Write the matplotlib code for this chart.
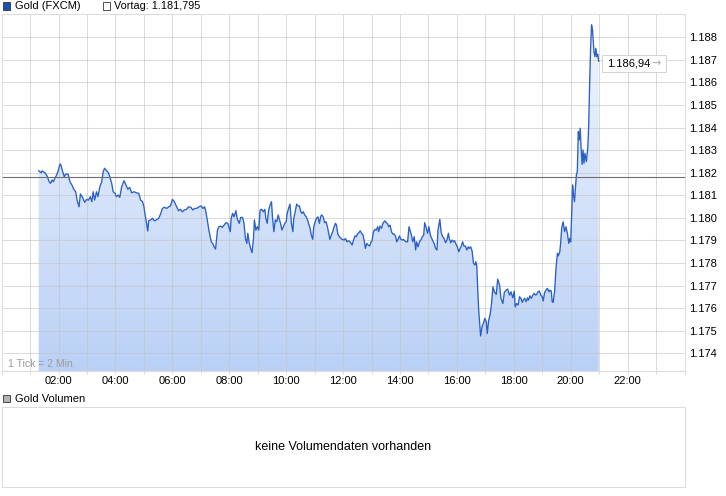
import numpy as np
import matplotlib
matplotlib.use("Agg")
import matplotlib.pyplot as plt
from matplotlib.colors import LinearSegmentedColormap
from matplotlib.patches import Rectangle, PathPatch
from matplotlib.path import Path
from matplotlib.transforms import IdentityTransform

plt.rcParams['font.family'] = ['Liberation Sans', 'DejaVu Sans']

# Gold (FXCM) intraday, 1 tick = 2 min; time as minutes after midnight
minutes = [
    78, 83, 85, 91, 96, 100, 103, 106, 109, 112, 116, 119, 123, 125, 128, 132, 135, 140, 144, 148,
    152, 156, 159, 163, 166, 171, 175, 179, 183, 187, 190, 193, 196, 200, 203, 207, 211, 214, 217, 221,
    225, 228, 232, 235, 239, 242, 246, 249, 253, 258, 262, 266, 270, 274, 279, 284, 289, 293, 297, 300,
    302, 305, 308, 310, 314, 318, 322, 326, 331, 335, 339, 343, 348, 352, 356, 360, 364, 369, 373, 377,
    381, 385, 390, 394, 399, 403, 407, 411, 416, 420, 422, 424, 428, 431, 434, 437, 439, 442, 445, 448,
    451, 455, 458, 462, 465, 469, 473, 477, 482, 484, 487, 490, 494, 497, 501, 504, 508, 511, 514, 517,
    519, 522, 525, 528, 531, 533, 536, 539, 542, 545, 548, 552, 555, 557, 560, 563, 566, 569, 571, 574,
    577, 580, 583, 586, 588, 591, 594, 597, 600, 602, 605, 608, 611, 614, 616, 619, 622, 625, 628, 630,
    633, 636, 639, 642, 645, 647, 650, 653, 656, 658, 661, 664, 667, 670, 673, 675, 678, 681, 684, 687,
    689, 692, 695, 698, 701, 704, 706, 709, 713, 718, 722, 725, 728, 732, 736, 739, 742, 745, 748, 750,
    753, 756, 759, 762, 765, 767, 770, 773, 776, 779, 781, 784, 787, 790, 793, 795, 798, 801, 804, 808,
    811, 814, 816, 819, 822, 825, 828, 831, 833, 836, 839, 842, 845, 847, 850, 853, 856, 859, 862, 864,
    867, 870, 873, 875, 878, 881, 884, 887, 890, 892, 895, 898, 901, 904, 906, 909, 912, 915, 918, 920,
    922, 924, 927, 930, 933, 936, 939, 942, 944, 947, 950, 953, 955, 958, 961, 964, 967, 970, 972, 975,
    978, 981, 984, 986, 989, 992, 995, 998, 1000, 1002, 1004, 1006, 1008, 1010, 1013, 1016, 1019, 1022, 1024, 1027,
    1030, 1033, 1036, 1039, 1043, 1046, 1050, 1053, 1057, 1060, 1064, 1067, 1071, 1074, 1078, 1081, 1083, 1086, 1089, 1092,
    1095, 1098, 1100, 1103, 1106, 1109, 1111, 1114, 1117, 1120, 1123, 1126, 1128, 1131, 1134, 1137, 1140, 1142, 1145, 1148,
    1151, 1154, 1156, 1159, 1161, 1163, 1166, 1169, 1172, 1174, 1177, 1179, 1181, 1184, 1187, 1190, 1193, 1196, 1198, 1200,
    1202, 1204, 1206, 1208, 1210, 1212, 1214, 1216, 1218, 1220, 1222, 1224, 1226, 1228, 1230, 1233, 1236, 1238, 1240, 1242,
    1244, 1246, 1249, 1251, 1253, 1255, 1257, 1259,
]
prices = [
    1182.09, 1182.00, 1182.08, 1182.00, 1181.85, 1181.60, 1181.53, 1181.68, 1181.60, 1181.75,
    1181.90, 1182.09, 1182.39, 1182.34, 1182.09, 1181.82, 1181.94, 1181.94, 1181.60, 1181.46,
    1181.27, 1181.16, 1180.79, 1180.49, 1181.06, 1180.89, 1180.69, 1180.82, 1180.79, 1180.94,
    1180.72, 1181.16, 1180.79, 1181.16, 1180.94, 1181.38, 1181.60, 1182.05, 1182.20, 1182.09,
    1182.00, 1181.82, 1181.53, 1181.16, 1181.09, 1180.94, 1181.01, 1180.91, 1181.38, 1181.65,
    1181.46, 1181.27, 1181.35, 1181.11, 1181.16, 1181.11, 1181.09, 1180.79, 1180.72, 1180.49,
    1180.20, 1179.83, 1179.42, 1179.87, 1179.91, 1179.98, 1179.87, 1179.91, 1179.98, 1180.17,
    1180.42, 1180.47, 1180.42, 1180.49, 1180.53, 1180.82, 1180.72, 1180.49, 1180.32, 1180.38,
    1180.27, 1180.35, 1180.38, 1180.49, 1180.47, 1180.35, 1180.42, 1180.42, 1180.49, 1180.53,
    1180.49, 1180.42, 1180.49, 1180.23, 1179.83, 1179.46, 1179.24, 1178.94, 1178.87, 1178.72,
    1178.62, 1179.46, 1179.61, 1179.64, 1179.58, 1179.68, 1179.79, 1179.76, 1179.39, 1179.98,
    1180.20, 1180.05, 1180.32, 1179.94, 1179.76, 1180.02, 1180.02, 1179.76, 1179.09, 1178.87,
    1179.32, 1178.90, 1178.65, 1178.46, 1179.09, 1179.91, 1179.46, 1179.61, 1179.46, 1180.35,
    1180.38, 1180.27, 1180.38, 1179.98, 1179.76, 1180.35, 1180.57, 1180.72, 1180.05, 1179.39,
    1179.91, 1179.83, 1180.13, 1179.91, 1179.76, 1179.46, 1179.61, 1179.76, 1179.83, 1180.20,
    1180.42, 1180.61, 1179.76, 1179.39, 1179.98, 1180.27, 1180.61, 1180.53, 1180.53, 1180.32,
    1180.20, 1180.27, 1180.13, 1180.05, 1179.91, 1179.76, 1179.58, 1179.24, 1179.05, 1179.61,
    1179.83, 1179.98, 1180.05, 1179.76, 1180.08, 1180.13, 1180.05, 1179.79, 1179.83, 1179.61,
    1179.39, 1179.05, 1179.24, 1179.39, 1179.61, 1179.76, 1179.68, 1179.28, 1179.14, 1179.05,
    1179.02, 1179.09, 1178.94, 1178.99, 1178.90, 1178.80, 1179.02, 1179.20, 1179.17, 1179.28,
    1179.34, 1179.43, 1179.32, 1179.24, 1178.94, 1178.65, 1178.87, 1178.80, 1178.75, 1178.94,
    1178.99, 1179.39, 1179.49, 1179.46, 1179.61, 1179.39, 1179.64, 1179.54, 1179.76, 1179.87,
    1179.79, 1179.73, 1179.61, 1179.68, 1179.39, 1179.28, 1179.28, 1179.17, 1178.94, 1179.05,
    1179.20, 1179.05, 1179.02, 1179.05, 1178.99, 1178.94, 1178.94, 1179.61, 1179.39, 1179.24,
    1178.94, 1179.17, 1178.58, 1178.94, 1178.72, 1178.94, 1179.02, 1179.17, 1179.24, 1179.79,
    1179.58, 1179.32, 1179.61, 1179.24, 1179.14, 1178.99, 1178.87, 1178.65, 1178.58, 1179.46,
    1179.68, 1179.94, 1179.34, 1179.17, 1179.09, 1178.90, 1179.02, 1179.32, 1179.09, 1178.90,
    1179.02, 1178.94, 1178.99, 1178.84, 1178.72, 1178.50, 1178.65, 1178.80, 1178.94, 1178.75,
    1178.75, 1178.58, 1178.72, 1178.65, 1178.72, 1178.54, 1177.99, 1177.91, 1178.06, 1177.87,
    1176.80, 1175.92, 1175.33, 1174.77, 1175.18, 1175.35, 1175.55, 1175.40, 1174.88, 1175.47,
    1175.70, 1176.21, 1176.95, 1176.73, 1176.61, 1177.29, 1177.03, 1176.44, 1176.21, 1176.70,
    1176.80, 1176.85, 1176.58, 1176.73, 1176.46, 1176.76, 1176.06, 1176.21, 1176.14, 1176.51,
    1176.44, 1176.26, 1176.36, 1176.44, 1176.29, 1176.46, 1176.36, 1176.55, 1176.44, 1176.58,
    1176.66, 1176.58, 1176.61, 1176.73, 1176.76, 1176.58, 1176.51, 1176.32, 1176.70, 1176.80,
    1176.88, 1176.73, 1176.80, 1176.76, 1176.29, 1176.26, 1176.73, 1177.77, 1178.43, 1178.32,
    1178.50, 1178.94, 1179.54, 1179.83, 1179.39, 1179.61, 1179.32, 1178.87, 1179.09, 1178.94,
    1180.13, 1181.46, 1181.01, 1180.72, 1181.31, 1181.90, 1182.08, 1183.82, 1183.45, 1183.97,
    1183.08, 1182.37, 1183.01, 1182.42, 1182.86, 1182.49, 1183.08, 1184.11, 1186.03, 1187.51,
    1188.55, 1188.32, 1187.36, 1187.14, 1187.51, 1187.14, 1187.25, 1186.94,
]
prev_close = 1181.795
x_ticks = [2, 4, 6, 8, 10, 12, 14, 16, 18, 20, 22]
x_labels = ['02:00', '04:00', '06:00', '08:00', '10:00', '12:00', '14:00', '16:00',
            '18:00', '20:00', '22:00']
y_ticks = [1174, 1175, 1176, 1177, 1178, 1179, 1180, 1181, 1182, 1183, 1184, 1185, 1186, 1187, 1188]


def de_num(v, decimals):
    s = f"{v:,.{decimals}f}"
    return s.replace(',', 'X').replace('.', ',').replace('X', '.')


W, H = 726, 496
GRID = '#dcdcdc'
LINE = '#2a5fc6'

hours = np.array(minutes) / 60.0
prices = np.array(prices)
ymin, ymax = 1173.22, 1189.03

fig = plt.figure(figsize=(W / 100, H / 100), dpi=100)
fig.patch.set_facecolor('white')

# main price panel
ax = fig.add_axes([1.7 / W, 1 - 371 / H, (684.5 - 1.7) / W, (371 - 14) / H])
ax.set_xlim(0, 24)
ax.set_ylim(ymin, ymax)

# gradient fill under the line
grad = np.linspace(0, 1, 256).reshape(-1, 1)
cmap = LinearSegmentedColormap.from_list('fill', ['#bad1f6', '#f2f6fe'])
img = ax.imshow(grad, extent=[0, 24, ymin, ymax], origin='lower', aspect='auto',
                cmap=cmap, zorder=1)
verts = [(hours[0], ymin)] + list(zip(hours, prices)) + [(hours[-1], ymin), (hours[0], ymin)]
clip = PathPatch(Path(verts), facecolor='none', edgecolor='none', transform=ax.transData)
ax.add_patch(clip)
img.set_clip_path(clip)

ax.plot(hours, prices, color=LINE, lw=0.95, zorder=4, solid_joinstyle='round')
ax.axhline(prev_close, color='#6e6e6e', lw=0.8, zorder=5)

ax.set_xticks(x_ticks)
ax.set_xticklabels(x_labels)
ax.set_xticks(range(0, 25), minor=True)
ax.set_yticks(y_ticks)
ax.set_yticklabels([de_num(v, 0) for v in y_ticks])
ax.yaxis.tick_right()
ax.grid(True, which='both', color='#c4c4c4', alpha=0.6, lw=0.75, zorder=2)
ax.set_axisbelow(False)
for gl in ax.get_xgridlines() + ax.get_ygridlines():
    gl.set_zorder(2)
ax.tick_params(axis='x', which='both', length=2, width=0.75, color=GRID,
               labelsize=8, pad=1.5, labelcolor='black')
ax.tick_params(axis='y', which='both', length=0, labelsize=8, pad=3, labelcolor='black')
for sp in ax.spines.values():
    sp.set_color(GRID)
    sp.set_linewidth(0.75)
    sp.set_zorder(6)

ax.text(6 / 682.8, 7 / 357, '1 Tick = 2 Min.', transform=ax.transAxes, fontsize=7.5,
        color='#9a9a9a', va='center', ha='left', zorder=7)

# last price box
fig.canvas.draw()
x0, y0 = ax.transData.transform((hours[-1], prices[-1]))
box = Rectangle((x0 + 3.5, y0 - 10.5), 64, 17, transform=IdentityTransform(),
                facecolor='white', edgecolor='#d4d4d4', lw=0.75, zorder=10)
fig.patches.append(box)
fig.text((x0 + 8.5) / W, (y0 - 2) / H, de_num(prices[-1], 2), fontsize=8,
         va='center', ha='left', color='black', zorder=11)
fig.text((x0 + 53) / W, (y0 - 2) / H, '\u2192', fontsize=8, va='center', ha='left',
         color='#b4b4b4', zorder=11, family='DejaVu Sans', weight='bold')

# top legend
fig.patches.append(Rectangle((3 / W, 1 - 9.5 / H), 7 / W, 7 / H, transform=fig.transFigure,
                             facecolor='#1d4fb2', edgecolor='#333333', lw=0.6))
fig.text(15 / W, 1 - 6 / H, 'Gold (FXCM)', fontsize=8, va='center', ha='left')
fig.patches.append(Rectangle((103 / W, 1 - 9.5 / H), 7 / W, 7 / H, transform=fig.transFigure,
                             facecolor='white', edgecolor='#333333', lw=0.6))
fig.text(114 / W, 1 - 6 / H, 'Vortag: ' + de_num(prev_close, 3), fontsize=7.8,
         va='center', ha='left')

# volume panel
fig.patches.append(Rectangle((3 / W, 1 - 402 / H), 7 / W, 7 / H, transform=fig.transFigure,
                             facecolor='#b4b4b4', edgecolor='#333333', lw=0.6))
fig.text(15 / W, 1 - 398.5 / H, 'Gold Volumen', fontsize=8, va='center', ha='left')

axv = fig.add_axes([1.7 / W, 1 - 487 / H, (684.5 - 1.7) / W, (487 - 407) / H])
axv.set_xticks([])
axv.set_yticks([])
for sp in axv.spines.values():
    sp.set_color(GRID)
    sp.set_linewidth(0.75)
axv.text(0.5, 0.5, 'keine Volumendaten vorhanden', transform=axv.transAxes,
         fontsize=9, ha='center', va='center')

fig.savefig('out.png', dpi=100, facecolor='white')
